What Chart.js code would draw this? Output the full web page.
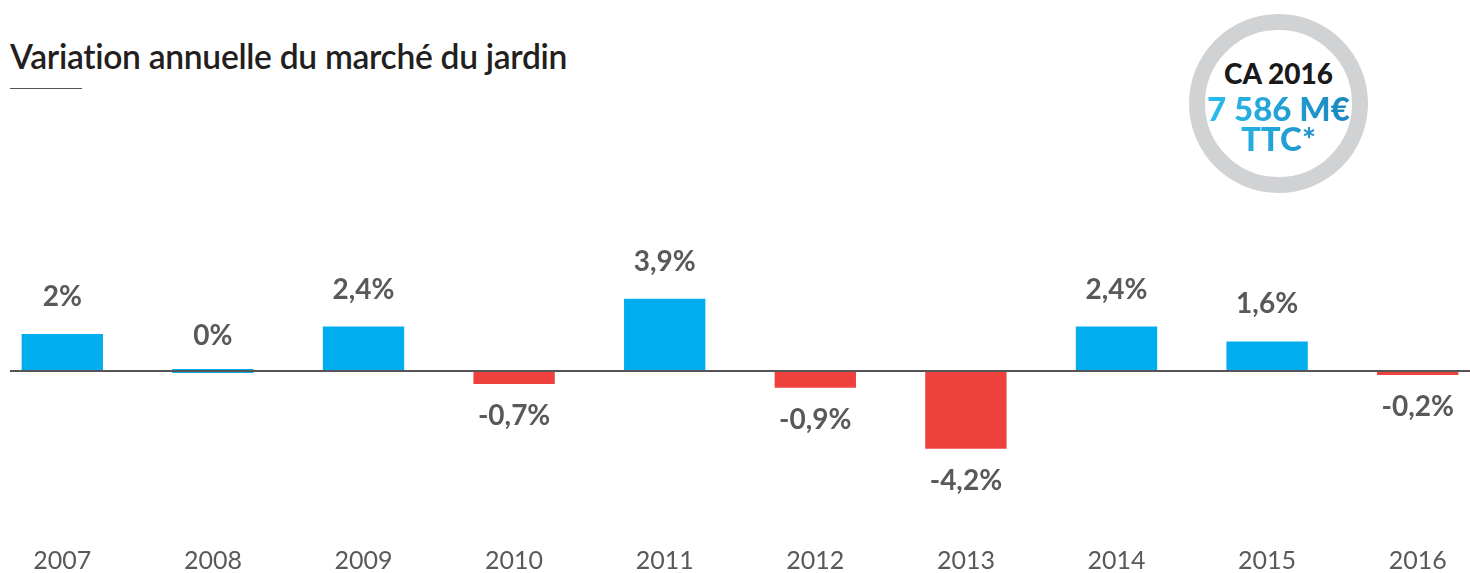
<!DOCTYPE html>
<html>
<head>
<meta charset="utf-8">
<script src="https://cdn.jsdelivr.net/npm/chart.js@4"></script>
<style>
  body { margin: 0; width: 1470px; height: 573px; overflow: hidden; background: #fff; position: relative; font-family: Lato, "Open Sans", sans-serif; }
  #title { position: absolute; left: 10px; top: 36px; font-size: 33.6px; font-weight: 600; color: #231f20; letter-spacing: -0.3px; }
  #rule { position: absolute; left: 10px; top: 88px; width: 72px; height: 1px; background: #555; }
  #badge { position: absolute; left: 1189px; top: 14px; width: 147px; height: 147px; border: 16px solid #d1d2d4; border-radius: 50%; text-align: center; }
  #badge .a { position: absolute; left: 0; right: 0; top: 26px; font-size: 28px; font-weight: 900; color: #1a1a1a; }
  #badge .b { position: absolute; left: -12px; right: -12px; top: 63px; font-size: 33px; font-weight: 900; line-height: 30px;
    background: linear-gradient(90deg, #2cc3f0, #1a80bb); -webkit-background-clip: text; background-clip: text; color: transparent; }
  #chart { position: absolute; left: -13px; top: 0; }
</style>
</head>
<body>
<div id="title">Variation annuelle du marché du jardin</div>
<div id="rule"></div>
<div id="badge"><div class="a">CA 2016</div><div class="b">7 586 M€<br>TTC*</div></div>
<canvas id="chart" width="1506" height="573"></canvas>
<script>
const years = ['2007', '2008', '2009', '2010', '2011', '2012', '2013', '2014', '2015', '2016'];
const variation = [2, 0, 2.4, -0.7, 3.9, -0.9, -4.2, 2.4, 1.6, -0.2];
const labelTexts = ['2%', '0%', '2,4%', '-0,7%', '3,9%', '-0,9%', '-4,2%', '2,4%', '1,6%', '-0,2%'];

const BLUE = '#00aeef';
const RED = '#ee403d';
const GREY = '#58595b';

const labelsPlugin = {
  id: 'valueLabels',
  afterDatasetsDraw(chart) {
    const ctx = chart.ctx;
    const y0 = chart.scales.y.getPixelForValue(0);
    // zero line
    ctx.save();
    ctx.strokeStyle = '#555';
    ctx.lineWidth = 2;
    ctx.beginPath();
    ctx.moveTo(23, y0);
    ctx.lineTo(chart.width, y0);
    ctx.stroke();
    // value labels
    ctx.fillStyle = GREY;
    ctx.font = 'bold 28px Lato, "Open Sans", sans-serif';
    ctx.textAlign = 'center';
    ctx.textBaseline = 'middle';
    chart.getDatasetMeta(0).data.forEach((bar, i) => {
      const v = variation[i];
      const y = v >= 0 ? bar.y - 37 : bar.y + 32;
      ctx.fillText(labelTexts[i], bar.x, y);
    });
    ctx.restore();
  }
};

new Chart(document.getElementById('chart'), {
  type: 'bar',
  data: {
    labels: years,
    datasets: [{
      data: variation,
      backgroundColor: variation.map(v => v < 0 ? RED : BLUE),
      borderWidth: 0,
      barPercentage: 0.54,
      categoryPercentage: 1,
      minBarLength: 4
    }]
  },
  options: {
    responsive: false,
    animation: false,
    layout: { padding: { top: 200, left: 0, right: 0, bottom: 0 } },
    plugins: { legend: { display: false }, tooltip: { enabled: false } },
    scales: {
      x: {
        grid: { display: false, drawTicks: false },
        border: { display: false },
        ticks: {
          color: GREY,
          padding: 0,
          font: { family: 'Lato, "Open Sans", sans-serif', size: 25, weight: 400, lineHeight: 1 }
        }
      },
      y: {
        display: false,
        min: -(548 - 371) / 18.5,
        max: (371 - 200) / 18.5
      }
    }
  },
  plugins: [labelsPlugin]
});
</script>
</body>
</html>
